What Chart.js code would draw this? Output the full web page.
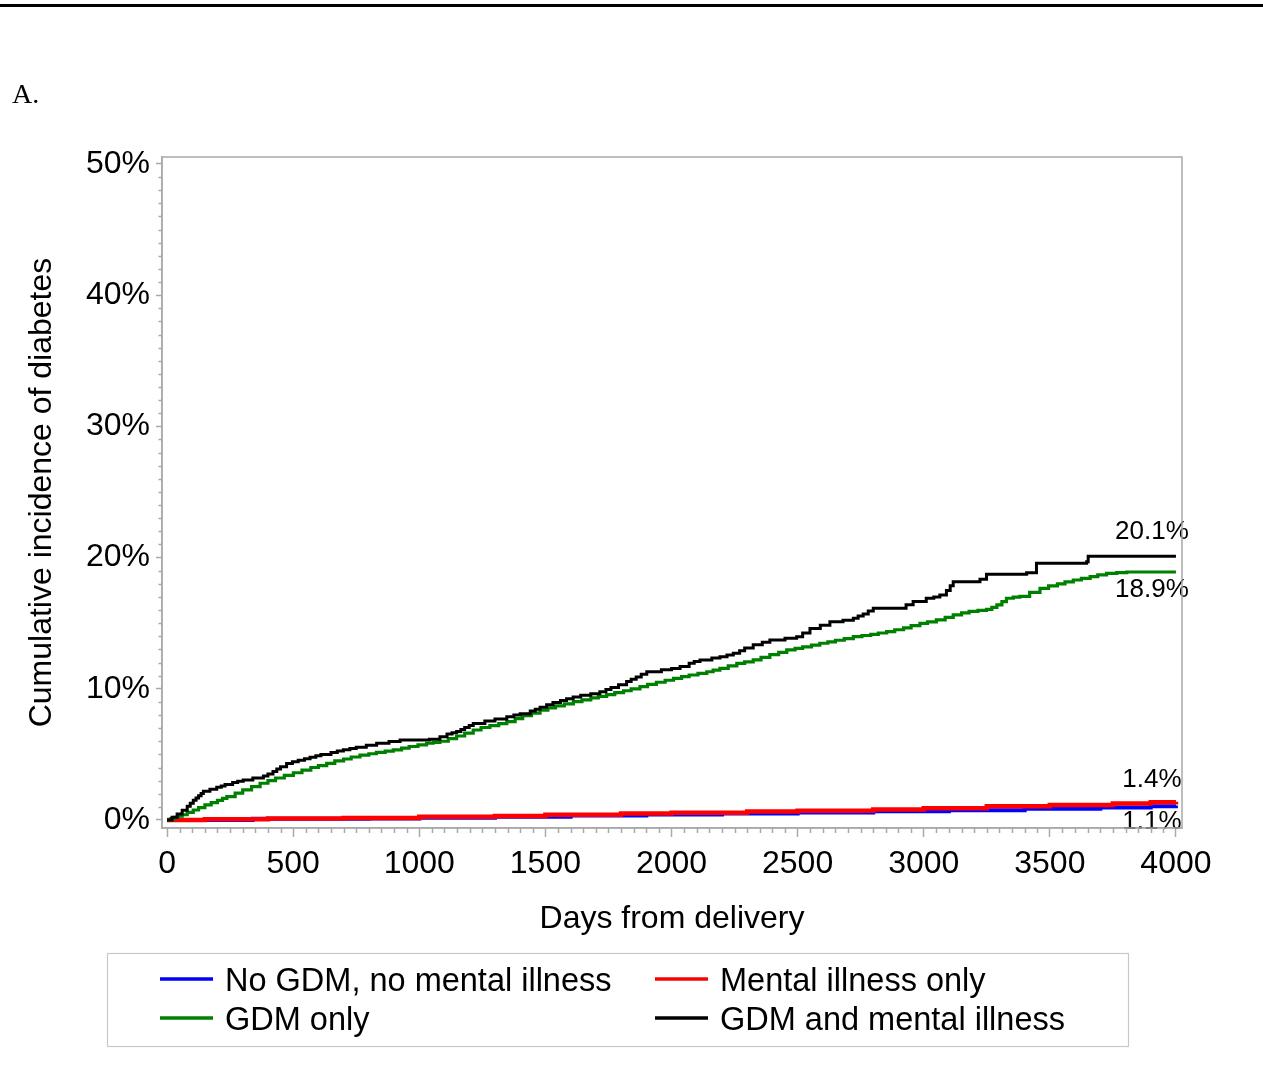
<!DOCTYPE html>
<html>
<head>
<meta charset="utf-8">
<script src="https://cdn.jsdelivr.net/npm/chart.js@4/dist/chart.umd.min.js"></script>
<style>
  html, body { margin: 0; padding: 0; background: #ffffff; }
  #wrap { position: relative; width: 1263px; height: 1085px; overflow: hidden; }
  #rule { position: absolute; left: 0; top: 4px; width: 1263px; height: 0; border-top: 3px solid #000; }
  #panel { position: absolute; left: 12px; top: 78px; font: 28px "Liberation Serif", "Times New Roman", serif; color: #000; }
  #chart { position: absolute; left: 0; top: 0; }
</style>
</head>
<body>
<div id="wrap">
  <canvas id="chart" width="1263" height="1085"></canvas>
  <div id="rule"></div>
  <div id="panel">A.</div>
</div>
<script>
// Axis ticks
const xTickValues = [0, 500, 1000, 1500, 2000, 2500, 3000, 3500, 4000];
const yTickValues = [0, 10, 20, 30, 40, 50];

// Series names (legend order)
const seriesLabels = ['No GDM, no mental illness', 'Mental illness only', 'GDM only', 'GDM and mental illness'];

// No GDM, no mental illness: days from delivery / cumulative incidence (%)
const noGdmDays = [0, 340, 800, 1000, 1300, 1600, 1900, 2200, 2500, 2800, 3100, 3400, 3700, 3900, 4000];
const noGdmPct  = [0, 0.10, 0.12, 0.18, 0.25, 0.35, 0.42, 0.50, 0.58, 0.66, 0.75, 0.85, 0.95, 1.05, 1.1];

// Mental illness only
const mentalDays = [0, 150, 400, 700, 1000, 1300, 1500, 1800, 2000, 2300, 2500, 2800, 3000, 3250, 3500, 3750, 3900, 4000];
const mentalPct  = [0, 0.05, 0.12, 0.15, 0.25, 0.30, 0.40, 0.50, 0.55, 0.65, 0.70, 0.80, 0.90, 1.05, 1.15, 1.25, 1.35, 1.4];

// GDM only
const gdmDays = [0, 15, 30, 45, 60, 80, 104, 125, 150, 175, 200, 220, 237, 270, 300, 335, 369, 400, 430, 465,
  501, 535, 570, 600, 633, 665, 700, 730, 765, 800, 830, 865, 897, 930, 960, 995, 1029, 1055, 1082, 1115,
  1148, 1180, 1214, 1245, 1280, 1315, 1347, 1380, 1410, 1445, 1479, 1510, 1540, 1575, 1611, 1645, 1680, 1710,
  1743, 1775, 1810, 1840, 1875, 1905, 1940, 1975, 2008, 2040, 2070, 2105, 2140, 2165, 2192, 2225, 2259, 2290,
  2324, 2355, 2390, 2425, 2457, 2490, 2520, 2555, 2588, 2620, 2650, 2685, 2721, 2755, 2790, 2820, 2853, 2885,
  2920, 2950, 2985, 3015, 3050, 3085, 3117, 3150, 3180, 3215, 3249, 3270, 3290, 3310, 3328, 3355, 3381, 3420,
  3461, 3495, 3530, 3560, 3593, 3625, 3660, 3690, 3725, 3765, 3805, 4000];
const gdmPct = [0, 0.1, 0.2, 0.3, 0.4, 0.58, 0.76, 0.95, 1.15, 1.33, 1.5, 1.65, 1.78, 2.05, 2.3, 2.55, 2.8, 3.0, 3.2, 3.4,
  3.6, 3.8, 4.0, 4.15, 4.32, 4.5, 4.65, 4.8, 4.95, 5.05, 5.15, 5.25, 5.35, 5.48, 5.6, 5.72, 5.85, 5.92, 6.0, 6.2,
  6.4, 6.62, 6.86, 7.05, 7.2, 7.35, 7.5, 7.72, 7.95, 8.15, 8.38, 8.55, 8.7, 8.85, 9.02, 9.15, 9.3, 9.42,
  9.55, 9.7, 9.85, 10.0, 10.16, 10.33, 10.5, 10.65, 10.8, 10.92, 11.05, 11.18, 11.3, 11.42, 11.55, 11.75, 11.94, 12.05,
  12.2, 12.4, 12.6, 12.78, 12.96, 13.08, 13.2, 13.33, 13.47, 13.58, 13.7, 13.83, 13.97, 14.06, 14.15, 14.25, 14.35, 14.5,
  14.65, 14.82, 14.99, 15.1, 15.25, 15.45, 15.63, 15.78, 15.9, 15.98, 16.05, 16.2, 16.4, 16.65, 16.9, 16.98, 17.05, 17.35,
  17.66, 17.85, 18.0, 18.15, 18.29, 18.42, 18.55, 18.68, 18.8, 18.86, 18.9, 18.9];

// GDM and mental illness
const bothDays = [0, 20, 40, 60, 80, 92, 104, 115, 125, 135, 144, 170, 197, 215, 230, 260, 280, 302, 340, 382,
  400, 420, 435, 450, 474, 497, 520, 545, 567, 590, 610, 650, 675, 699, 725, 750, 790, 831, 880, 924,
  1040, 1082, 1110, 1130, 1148, 1165, 1180, 1198, 1214, 1260, 1300, 1347, 1375, 1400, 1440, 1460, 1479, 1505,
  1530, 1560, 1584, 1610, 1640, 1680, 1716, 1740, 1760, 1790, 1822, 1840, 1860, 1880, 1902, 1960, 2000, 2034,
  2070, 2090, 2113, 2160, 2192, 2220, 2245, 2270, 2290, 2324, 2360, 2390, 2450, 2496, 2520, 2549, 2590, 2628,
  2680, 2721, 2740, 2760, 2780, 2800, 2906, 2930, 2958, 3010, 3040, 3064, 3090, 3105, 3117, 3223, 3249, 3408,
  3447, 3646, 3652, 4000];
const bothPct = [0, 0.2, 0.45, 0.75, 1.05, 1.28, 1.5, 1.68, 1.85, 2.02, 2.2, 2.35, 2.5, 2.6, 2.7, 2.85, 2.95, 3.05, 3.2, 3.35,
  3.5, 3.7, 3.88, 4.05, 4.3, 4.43, 4.55, 4.67, 4.78, 4.9, 5.0, 5.15, 5.25, 5.35, 5.45, 5.55, 5.7, 5.85, 5.98, 6.1,
  6.15, 6.35, 6.55, 6.65, 6.75, 6.9, 7.05, 7.2, 7.35, 7.55, 7.7, 7.87, 8.0, 8.1, 8.3, 8.45, 8.6, 8.78,
  8.95, 9.1, 9.25, 9.38, 9.5, 9.62, 9.78, 9.95, 10.1, 10.3, 10.55, 10.72, 10.9, 11.1, 11.3, 11.45, 11.55, 11.7,
  11.95, 12.08, 12.2, 12.35, 12.45, 12.58, 12.7, 12.9, 13.1, 13.35, 13.55, 13.72, 13.85, 13.97, 14.25, 14.6, 14.85, 15.1,
  15.22, 15.37, 15.55, 15.7, 15.92, 16.14, 16.14, 16.4, 16.65, 16.9, 17.0, 17.15, 17.5, 17.85, 18.16, 18.35, 18.73, 18.85,
  19.56, 19.69, 20.1, 20.1];

const FONT = '"Liberation Sans", Arial, Helvetica, sans-serif';
const AXIS_GREY = '#a9a9a9';

function pairs(days, pct) {
  return days.map((d, i) => ({ x: d, y: pct[i] }));
}

// Frame around the plot area plus the minor tick marks on both axes
const framePlugin = {
  id: 'frame',
  afterDraw(chart) {
    const { ctx, chartArea: a, scales: { x, y } } = chart;
    ctx.save();
    ctx.strokeStyle = AXIS_GREY;
    ctx.lineWidth = 1.5;
    ctx.strokeRect(a.left, a.top, a.right - a.left, a.bottom - a.top);
    ctx.beginPath();
    for (let v = 50; v < 4000; v += 50) {
      if (v % 500 === 0) continue;
      const px = Math.round(x.getPixelForValue(v)) + 0.5;
      ctx.moveTo(px, a.bottom);
      ctx.lineTo(px, a.bottom + 5);
    }
    for (let v = 1; v < 50; v += 1) {
      if (v % 10 === 0) continue;
      const py = Math.round(y.getPixelForValue(v)) + 0.5;
      ctx.moveTo(a.left, py);
      ctx.lineTo(a.left - 3.5, py);
    }
    ctx.stroke();
    ctx.restore();
  }
};

// Final cumulative incidence printed at the end of each curve
const endLabelPlugin = {
  id: 'endLabels',
  afterDatasetsDraw(chart) {
    const { ctx, scales: { x, y } } = chart;
    const offsets = [16, -22, 18, -24]; // below / above the line end
    ctx.save();
    ctx.font = '26px ' + FONT;
    ctx.fillStyle = '#000';
    ctx.textAlign = 'center';
    ctx.textBaseline = 'middle';
    chart.data.datasets.forEach((ds, i) => {
      const last = ds.data[ds.data.length - 1];
      const px = x.getPixelForValue(last.x) - 24;
      const py = y.getPixelForValue(last.y) + offsets[i];
      ctx.fillText(last.y.toFixed(1) + '%', px, py);
    });
    ctx.restore();
  }
};

// Boxed two-column legend below the axis title
const legendPlugin = {
  id: 'boxLegend',
  afterDraw(chart) {
    const { ctx } = chart;
    ctx.save();
    ctx.strokeStyle = '#c8c8c8';
    ctx.lineWidth = 1.2;
    ctx.strokeRect(107.5, 953.5, 1021, 93);
    const cols = [160, 655];
    const rows = [979, 1018];
    ctx.font = '32.5px ' + FONT;
    ctx.textBaseline = 'middle';
    ctx.textAlign = 'left';
    chart.data.datasets.forEach((ds, i) => {
      const cx = cols[i % 2];
      const cy = rows[Math.floor(i / 2)];
      ctx.strokeStyle = ds.borderColor;
      ctx.lineWidth = 3.5;
      ctx.beginPath();
      ctx.moveTo(cx, cy);
      ctx.lineTo(cx + 53, cy);
      ctx.stroke();
      ctx.fillStyle = '#000';
      ctx.fillText(ds.label, cx + 65, cy + 3);
    });
    ctx.restore();
  }
};

const colors = ['#0000ff', '#ff0000', '#008000', '#000000'];
const widths = [4, 4.5, 3.2, 3];
const drawOrder = [3, 2, 1, 0];
const seriesData = [
  pairs(noGdmDays, noGdmPct),
  pairs(mentalDays, mentalPct),
  pairs(gdmDays, gdmPct),
  pairs(bothDays, bothPct)
];

new Chart(document.getElementById('chart'), {
  type: 'line',
  data: {
    datasets: seriesLabels.map((label, i) => ({
      label,
      data: seriesData[i],
      borderColor: colors[i],
      backgroundColor: colors[i],
      borderWidth: widths[i],
      stepped: 'before',
      pointRadius: 0,
      fill: false,
      order: drawOrder[i]
    }))
  },
  options: {
    responsive: false,
    animation: false,
    events: [],
    layout: { padding: { left: 0, right: 81, top: 157, bottom: 147 } },
    plugins: { legend: { display: false }, tooltip: { enabled: false } },
    scales: {
      x: {
        type: 'linear',
        min: -20,
        max: 4024,
        afterBuildTicks(scale) { scale.ticks = xTickValues.map(v => ({ value: v })); },
        afterFit(scale) { scale.height = 110; },
        ticks: {
          font: { family: FONT, size: 32 },
          color: '#000',
          padding: 8,
          maxRotation: 0,
          autoSkip: false,
          callback: v => String(v)
        },
        grid: { drawOnChartArea: false, drawTicks: true, tickLength: 9, tickColor: AXIS_GREY, tickWidth: 1.5 },
        border: { display: true, color: AXIS_GREY, width: 1.5 },
        title: {
          display: true,
          text: 'Days from delivery',
          font: { family: FONT, size: 32 },
          color: '#000',
          padding: { top: 0, bottom: 0 }
        }
      },
      y: {
        type: 'linear',
        min: -0.61,
        max: 50.53,
        afterBuildTicks(scale) { scale.ticks = yTickValues.map(v => ({ value: v })); },
        afterFit(scale) { scale.width = 162; },
        ticks: {
          font: { family: FONT, size: 32 },
          color: '#000',
          padding: 6,
          autoSkip: false,
          callback: v => v + '%'
        },
        grid: { drawOnChartArea: false, drawTicks: true, tickLength: 6, tickColor: AXIS_GREY, tickWidth: 1.5 },
        border: { display: true, color: AXIS_GREY, width: 1.5 },
        title: {
          display: true,
          text: 'Cumulative incidence of diabetes',
          font: { family: FONT, size: 32 },
          color: '#000',
          padding: { top: 23, bottom: 0 }
        }
      }
    }
  },
  plugins: [framePlugin, endLabelPlugin, legendPlugin]
});
</script>
</body>
</html>
